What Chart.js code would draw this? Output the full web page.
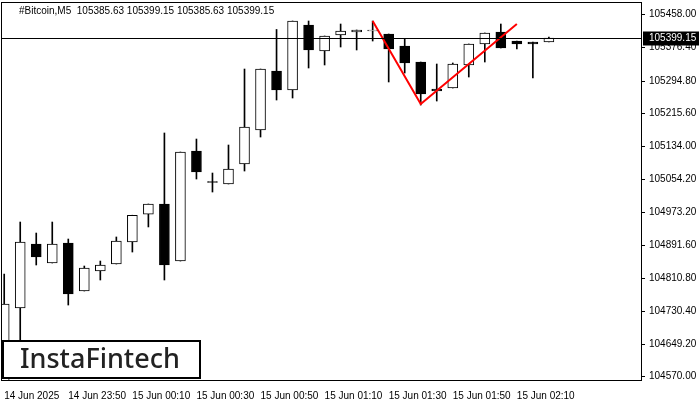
<!DOCTYPE html>
<html>
<head>
<meta charset="utf-8">
<script src="https://cdn.jsdelivr.net/npm/chart.js@4"></script>
<style>
  html, body { margin: 0; padding: 0; background: #fff; }
  #wrap { width: 700px; height: 400px; }
</style>
</head>
<body>
<div id="wrap"><canvas id="btcChart" width="700" height="400"></canvas></div>
<script>
// M5 candles
const opens  = [104548, 104736.8, 104893.8, 104847.2, 104896.3, 104778.5, 104827.6, 104844.7, 104898.7, 104966.8,
                104991.9, 104852.0, 105121.9, 105047, 105041.0, 105090.0, 105173.4, 105318.2, 105271.5, 105431.0,
                105367.2, 105406.4, 105413.8, 105416.3, 105408.9, 105379.5, 105340.2, 105274.0, 105276.4, 105332.9,
                105384.4, 105413.8, 105391.7, 105389.3, 105389.3];
const closes = [104746.6, 104898.7, 104862.0, 104893.8, 104771.1, 104834.9, 104842.3, 104901.2, 104964.4, 104991.9,
                104842.3, 105119.4, 105070.4, 105045, 105077.7, 105180.8, 105323.0, 105271.5, 105440.8, 105369.7,
                105404.0, 105416.3, 105418.7, 105418.7, 105372.1, 105337.8, 105261.7, 105269.1, 105335.3, 105384.4,
                105411.4, 105374.6, 105384.4, 105384.4, 105399.15];
const highs  = [104820.0, 104947.7, 104920.7, 104947.7, 104906.0, 104839.8, 104852.0, 104911.0, 104964.4, 104991.9,
                105166.1, 105119.4, 105151.3, 105067.9, 105136.6, 105323.0, 105323.0, 105420.0, 105440.8, 105440.8,
                105404.0, 105433.4, 105418.7, 105440.8, 105408.9, 105396.6, 105340.2, 105335.3, 105337.8, 105384.4,
                105411.4, 105433.4, 105391.7, 105389.3, 105401.5];
const lows   = [104548, 104634.0, 104842.3, 104847.2, 104744.1, 104778.5, 104805.5, 104844.7, 104874.1, 104935.6,
                104805.5, 104852.0, 105053.2, 105021.3, 105041.0, 105072.8, 105156.2, 105247.0, 105251.9, 105325.5,
                105332.9, 105377.0, 105369.7, 105391.7, 105291.2, 105313.2, 105234.7, 105244.5, 105276.4, 105303.4,
                105340.2, 105374.6, 105372.1, 105301.0, 105389.3];
// double-top pattern line: candle index, price
const patternIdx    = [23, 26, 32];
const patternPrices = [105440.8, 105237.2, 105433.4];
const timeLabels = ['14 Jun 2025', '14 Jun 23:50', '15 Jun 00:10', '15 Jun 00:30', '15 Jun 00:50',
                    '15 Jun 01:10', '15 Jun 01:30', '15 Jun 01:50', '15 Jun 02:10'];
const priceTicks = [105458.00, 105376.40, 105294.80, 105215.60, 105134.00, 105054.20,
                    104973.20, 104891.60, 104810.80, 104730.40, 104649.20, 104570.00];
const lastPrice = 105399.15;

const wicks = highs.map((h, i) => ({ x: i, y: [lows[i], h] }));
const bodies = opens.map((o, i) => ({ x: i, y: [Math.min(o, closes[i]), Math.max(o, closes[i])] }));
const bodyColors = opens.map((o, i) => closes[i] >= o ? '#ffffff' : '#000000');
const axisFont = { family: 'Liberation Sans', size: 10 };

const overlay = {
    id: 'overlay',
    afterDraw(chart) {
        const { ctx, chartArea: a, scales } = chart;
        ctx.save();
        // frame
        ctx.strokeStyle = '#000';
        ctx.lineWidth = 1;
        ctx.strokeRect(a.left + 0.5, a.top + 0.5, a.right - a.left, a.bottom - a.top);
        // price scale labels
        ctx.fillStyle = '#000';
        ctx.font = '10px "Liberation Sans"';
        ctx.textBaseline = 'middle';
        priceTicks.forEach(v => {
            const ty = Math.round(scales.y.getPixelForValue(v)) + 0.5;
            ctx.beginPath();
            ctx.moveTo(a.right, ty);
            ctx.lineTo(a.right + 4, ty);
            ctx.stroke();
            ctx.fillText(v.toFixed(2), a.right + 8, ty);
        });
        // last price line
        const py = Math.round(scales.y.getPixelForValue(lastPrice)) + 0.5;
        ctx.beginPath();
        ctx.moveTo(a.left, py);
        ctx.lineTo(a.right, py);
        ctx.stroke();
        ctx.fillRect(a.right + 2, py - 7, 56, 14);
        ctx.fillStyle = '#fff';
        ctx.fillText(lastPrice.toFixed(2), a.right + 8, py);
        // header
        ctx.fillStyle = '#000';
        ctx.fillText('#Bitcoin,M5  105385.63 105399.15 105385.63 105399.15', 19, 11);
        // logo
        ctx.fillStyle = '#fff';
        ctx.fillRect(3, 341, 197, 37);
        ctx.lineWidth = 2;
        ctx.strokeRect(3, 341, 197, 37);
        ctx.fillStyle = '#222';
        ctx.font = '500 27px "Noto Sans"';
        ctx.fillText('InstaFintech', 20, 360);
        ctx.restore();
    }
};

new Chart(document.getElementById('btcChart').getContext('2d'), {
    data: {
        datasets: [
            {
                type: 'bar', data: wicks, backgroundColor: '#000', barThickness: 1,
                grouped: false, order: 3
            },
            {
                type: 'bar', data: bodies, backgroundColor: bodyColors, borderColor: '#000',
                borderWidth: 1, borderSkipped: false, barThickness: 10, grouped: false, order: 2
            },
            {
                type: 'line', data: patternIdx.map((x, i) => ({ x: x, y: patternPrices[i] })),
                borderColor: '#ff0000', borderWidth: 2, pointRadius: 0, tension: 0, order: 1
            }
        ]
    },
    options: {
        responsive: false,
        animation: false,
        layout: { padding: { top: 2, left: 1 } },
        plugins: { legend: { display: false }, tooltip: { enabled: false } },
        scales: {
            x: {
                type: 'linear', min: -0.2, max: 39.75, offset: false,
                grid: { display: false },
                border: { display: false },
                afterFit: s => { s.height = 20; },
                afterBuildTicks: s => { s.ticks = timeLabels.map((t, i) => ({ value: i * 4 })); },
                ticks: {
                    autoSkip: false, maxRotation: 0, align: 'start', padding: 2,
                    color: '#000', font: axisFont,
                    callback: (v) => timeLabels[v / 4]
                }
            },
            y: {
                position: 'right', min: 104560.2, max: 105487.4,
                grid: { display: false },
                border: { display: false },
                ticks: { display: false },
                afterFit: s => { s.width = 59; }
            }
        }
    },
    plugins: [overlay]
});
</script>
</body>
</html>
